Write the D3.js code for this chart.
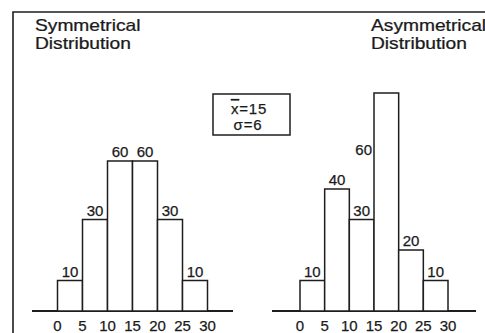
<!DOCTYPE html>
<html>
<head>
<meta charset="utf-8">
<script src="https://cdn.jsdelivr.net/npm/d3@7"></script>
<style>
	body { margin: 0; background: #fff; }
	svg { display: block; font-family: 'Liberation Sans', Arial, Helvetica, sans-serif; }
	text { fill: #1a1a1a; stroke: #1a1a1a; stroke-width: 0.25; }
</style>
</head>
<body>
<div id="vis"></div>
<script>
// class limits (same for both panels)
var binEdges = [0, 5, 10, 15, 20, 25, 30];
var tickLabels = ['0', '5', '10', '15', '20', '25', '30'];

// symmetrical distribution
var symValues = [10, 30, 60, 60, 30, 10];
var symLabels = ['10', '30', '60', '60', '30', '10'];

// asymmetrical distribution (tall bar is printed "60" beside it)
var asymValues = [10, 40, 30, 90, 20, 10];
var asymLabels = ['10', '40', '30', '60', '20', '10'];

var statLines = ['=15', 'σ=6'];

var width = 485,
	height = 333,
	baseY = 311,
	ink = '#1e1e1e';

var svg = d3.select('#vis').append('svg')
	.attr('width', width)
	.attr('height', height);

// the scanned figure is not drawn to a single linear scale,
// so the y scale bends a little to follow the printed bar heights
var y = d3.scaleLinear()
	.domain([0, 40, 60, 90])
	.range([baseY, 189, 161, 93]);

// frame: only left and top edges visible in the scan
svg.append('path')
	.attr('d', 'M13,' + height + 'V12H' + width)
	.attr('fill', 'none')
	.attr('stroke', ink)
	.attr('stroke-width', 1.6);

function drawPanel(opts) {
	var x = d3.scaleLinear().domain([0, 30]).range(opts.range);
	var g = svg.append('g');

	var bins = opts.values.map(function(v, i) {
		return { x0: binEdges[i], x1: binEdges[i + 1], value: v, label: opts.labels[i] };
	});

	// axis line without tick marks
	g.append('line')
		.attr('x1', opts.axisFrom)
		.attr('x2', opts.axisTo)
		.attr('y1', baseY)
		.attr('y2', baseY)
		.attr('stroke', ink)
		.attr('stroke-width', 1.8);

	g.selectAll('.bar')
		.data(bins)
		.enter()
		.append('rect')
		.attr('class', 'bar')
		.attr('x', function(d) { return x(d.x0); })
		.attr('width', function(d) { return x(d.x1) - x(d.x0); })
		.attr('y', function(d) { return y(d.value); })
		.attr('height', function(d) { return baseY - y(d.value); })
		.attr('fill', '#fff')
		.attr('stroke', ink)
		.attr('stroke-width', 1.5);

	// value labels; the tallest bar gets its label on the left side
	g.selectAll('.val')
		.data(bins)
		.enter()
		.append('text')
		.attr('class', 'val')
		.attr('font-size', 15)
		.attr('text-anchor', function(d) { return d.value > 60 ? 'end' : 'middle'; })
		.attr('x', function(d) {
			return d.value > 60 ? x(d.x0) - 2 : (x(d.x0) + x(d.x1)) / 2;
		})
		.attr('y', function(d) {
			return d.value > 60 ? y(60) - 6 : y(d.value) - 4;
		})
		.text(function(d) { return d.label; });

	g.selectAll('.tick')
		.data(binEdges)
		.enter()
		.append('text')
		.attr('class', 'tick')
		.attr('font-size', 15)
		.attr('text-anchor', 'middle')
		.attr('x', function(d) { return x(d); })
		.attr('y', baseY + 20)
		.text(function(d, i) { return tickLabels[i]; });

	// titles: the scan is a bit wide, so stretch horizontally
	var t = g.append('g')
		.attr('transform', 'translate(' + opts.titleX + ',31) scale(1.2,1)');
	t.append('text')
		.attr('font-size', 16)
		.text(opts.title[0]);
	t.append('text')
		.attr('y', 18)
		.attr('font-size', 16)
		.text(opts.title[1]);
}

drawPanel({
	values: symValues,
	labels: symLabels,
	range: [57.5, 207.5],
	axisFrom: 32,
	axisTo: 233,
	titleX: 35,
	title: ['Symmetrical', 'Distribution']
});

drawPanel({
	values: asymValues,
	labels: asymLabels,
	range: [300, 448],
	axisFrom: 272,
	axisTo: 476,
	titleX: 371,
	title: ['Asymmetrical', 'Distribution']
});

// mean / sd box
var box = svg.append('g');
box.append('rect')
	.attr('x', 213)
	.attr('y', 94)
	.attr('width', 77)
	.attr('height', 41)
	.attr('fill', '#fff')
	.attr('stroke', ink)
	.attr('stroke-width', 1.5);

var meanText = box.append('text')
	.attr('x', 249)
	.attr('y', 114)
	.attr('font-size', 15)
	.attr('text-anchor', 'middle')
	.attr('letter-spacing', 0.8);
meanText.append('tspan').style('text-decoration', 'overline').text('x');
meanText.append('tspan').text(statLines[0]);

box.append('text')
	.attr('x', 248)
	.attr('y', 130)
	.attr('font-size', 15)
	.attr('text-anchor', 'middle')
	.attr('letter-spacing', 0.8)
	.text(statLines[1]);
</script>
</body>
</html>
